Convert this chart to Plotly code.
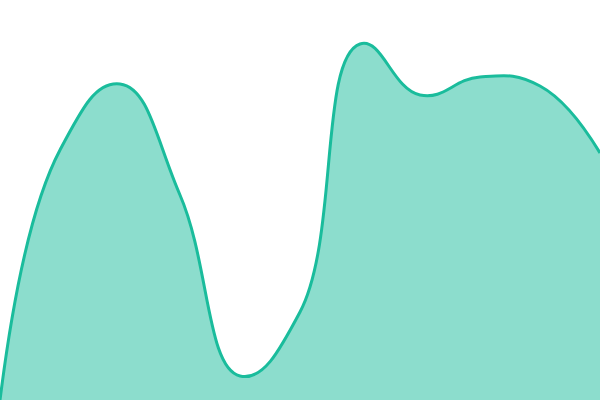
import plotly.graph_objects as go

x_vals = [0, 1, 2, 3, 4, 5, 6, 7, 8, 9, 10]
y_vals = [0, 250, 316, 205, 24, 88, 356, 305, 323, 314, 247]

fig = go.Figure()
fig.add_trace(go.Scatter(
    x=x_vals, y=y_vals,
    mode="lines",
    line=dict(color="#1abc9c", width=3, shape="spline", smoothing=1.3),
    fill="tozeroy",
    fillcolor="rgba(26,188,156,0.5)",
    hoverinfo="skip",
))
fig.update_layout(
    width=600, height=400,
    margin=dict(l=0, r=0, t=0, b=0),
    paper_bgcolor="white", plot_bgcolor="white",
    showlegend=False,
    xaxis=dict(visible=False, range=[0, 10]),
    yaxis=dict(visible=False, range=[0, 400]),
)
fig.write_html("out.html", config={"displayModeBar": False},
               post_script="document.body.style.margin='0';document.body.style.overflow='hidden';")
